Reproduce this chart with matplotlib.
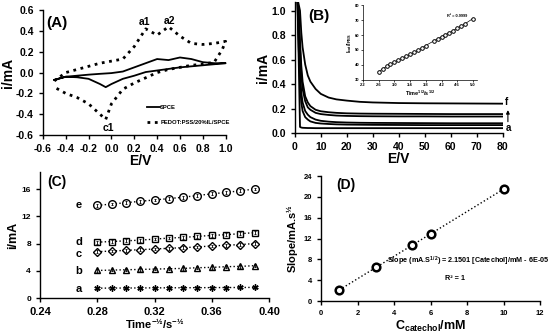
"""
Four-panel electrochemistry figure: CV, chronoamperometry, Cottrell plots, slope calibration.
"""

import numpy as np
import matplotlib
matplotlib.use('Agg')
import matplotlib.pyplot as plt

plt.rcParams['font.family'] = ['Liberation Sans', 'DejaVu Sans']
plt.rcParams['font.weight'] = 'bold'
plt.rcParams['axes.labelweight'] = 'bold'
plt.rcParams['mathtext.fontset'] = 'custom'
plt.rcParams['mathtext.rm'] = 'Liberation Sans:bold'
plt.rcParams['mathtext.it'] = 'Liberation Sans:bold'
plt.rcParams['mathtext.bf'] = 'Liberation Sans:bold'
plt.rcParams['axes.linewidth'] = 1.0

# ── (A) cyclic voltammograms ──────────────────────────────────────────────────
E_spce = [-0.5, -0.4, -0.3, -0.2, -0.1, 0.0, 0.1, 0.2, 0.3, 0.4, 0.5, 0.6, 0.7, 0.8, 0.9, 1.0,
          0.9, 0.8, 0.7, 0.6, 0.5, 0.4, 0.3, 0.2, 0.1, 0.0, -0.05, -0.1, -0.2, -0.3, -0.4, -0.5]
i_spce = [-0.07, -0.04, -0.03, -0.02, -0.012, -0.005, 0.01, 0.05, 0.09, 0.13, 0.12, 0.145, 0.13, 0.10, 0.09, 0.09,
          0.08, 0.07, 0.06, 0.05, 0.035, 0.02, 0.005, -0.03, -0.06, -0.11, -0.14, -0.11, -0.06, -0.045, -0.04, -0.07]
E_pedot = [-0.5, -0.4, -0.3, -0.2, -0.1, 0.0, 0.1, 0.2, 0.3, 0.4, 0.5, 0.6, 0.7, 0.8, 0.9, 1.0,
           0.97, 0.9, 0.8, 0.7, 0.6, 0.5, 0.4, 0.3, 0.2, 0.1, 0.0, -0.05, -0.1, -0.2, -0.3, -0.4, -0.5]
i_pedot = [-0.08, 0.0, 0.03, 0.06, 0.09, 0.11, 0.13, 0.25, 0.42, 0.36, 0.44, 0.35, 0.28, 0.27, 0.28, 0.30,
           0.22, 0.10, 0.08, 0.07, 0.05, 0.03, 0.0, -0.05, -0.10, -0.16, -0.30, -0.45, -0.40, -0.30, -0.24, -0.20, -0.14]

# ── (B) chronoamperograms ─────────────────────────────────────────────────────
t_b = [1.0, 1.5, 2.0, 2.5, 3, 4, 5, 6, 8, 10, 13, 16, 20, 25, 30, 40, 50, 60, 70, 80]
i_a = [1.1, 0.6, 0.05, 0.045, 0.043, 0.042, 0.041, 0.041, 0.04, 0.04, 0.04, 0.04, 0.04, 0.04, 0.04, 0.04, 0.04, 0.04, 0.04, 0.04]
i_b = [1.1, 0.7, 0.4, 0.25, 0.18, 0.13, 0.11, 0.095, 0.083, 0.078, 0.074, 0.071, 0.069, 0.068, 0.067, 0.066, 0.065, 0.065, 0.065, 0.065]
i_c = [1.1, 0.8, 0.5, 0.33, 0.25, 0.18, 0.15, 0.13, 0.11, 0.10, 0.093, 0.089, 0.086, 0.084, 0.083, 0.082, 0.081, 0.08, 0.08, 0.08]
i_d = [1.1, 0.95, 0.7, 0.48, 0.36, 0.26, 0.21, 0.19, 0.165, 0.155, 0.148, 0.143, 0.14, 0.138, 0.137, 0.136, 0.136, 0.135, 0.135, 0.135]
i_e = [1.1, 1.0, 0.75, 0.55, 0.42, 0.30, 0.25, 0.22, 0.19, 0.178, 0.17, 0.165, 0.161, 0.159, 0.158, 0.157, 0.156, 0.155, 0.155, 0.155]
i_f = [1.1, 1.05, 1.0, 0.82, 0.70, 0.56, 0.47, 0.42, 0.36, 0.32, 0.29, 0.275, 0.265, 0.255, 0.25, 0.245, 0.243, 0.242, 0.241, 0.24]
curves_b = [i_a, i_b, i_c, i_d, i_e, i_f]

# inset: Icat/IPBS vs t^1/2
sqrt_t = [2.6, 2.7, 2.8, 2.9, 3.0, 3.1, 3.2, 3.3, 3.4, 3.5, 3.6, 3.7, 3.8,
          4.0, 4.1, 4.2, 4.3, 4.4, 4.5, 4.6, 4.7, 4.8, 5.0]
ratio = [35.5, 37.4, 39.0, 40.6, 42.0, 43.3, 44.6, 45.8, 47.0, 48.4, 49.8, 51.3, 53.0,
         56.0, 57.4, 58.8, 60.2, 61.6, 63.0, 64.5, 66.0, 67.5, 71.0]

# ── (C) Cottrell plots ────────────────────────────────────────────────────────
t_inv = [0.28, 0.29, 0.30, 0.31, 0.32, 0.33, 0.34, 0.35, 0.36, 0.37, 0.38, 0.39]
c_a = [1.45, 1.46, 1.47, 1.48, 1.49, 1.5, 1.51, 1.52, 1.53, 1.54, 1.55, 1.56]
c_b = [4.05, 4.1, 4.15, 4.2, 4.25, 4.3, 4.35, 4.45, 4.5, 4.6, 4.65, 4.75]
c_c = [6.8, 6.9, 7.0, 7.1, 7.2, 7.3, 7.4, 7.5, 7.65, 7.75, 7.85, 8.0]
c_d = [8.2, 8.3, 8.4, 8.5, 8.65, 8.8, 8.9, 9.05, 9.2, 9.3, 9.45, 9.6]
c_e = [13.6, 13.8, 14.0, 14.2, 14.4, 14.6, 14.8, 15.05, 15.3, 15.5, 15.75, 16.0]
series_c = [c_a, c_b, c_c, c_d, c_e]
labels_c = ['a', 'b', 'c', 'd', 'e']
label_y_c = [1.3, 3.9, 6.5, 8.2, 13.6]
markers_c = [(6, 2, 0), '^', 'D', 's', 'o']
msizes_c = [4.5, 5, 4, 5, 5.5]

# ── (D) slope vs concentration ────────────────────────────────────────────────
conc = [1, 3, 5, 6, 10]
slope = [2.15, 6.45, 10.75, 12.9, 21.5]


def style_axes(ax, fs=7):
    for s in ['top', 'right']:
        ax.spines[s].set_visible(False)
    ax.tick_params(direction='out', length=3, width=1, labelsize=fs)
    for lab in ax.get_xticklabels() + ax.get_yticklabels():
        lab.set_fontweight('bold')


fig = plt.figure(figsize=(5.5, 3.36), dpi=100)

# ── Panel A ──
ax = fig.add_axes([0.078, 0.598, 0.353, 0.372])
ax.plot(E_spce, i_spce, 'k-', lw=1.3, label='SPCE')
ax.plot(E_pedot, i_pedot, 'k:', lw=2.0, label='PEDOT:PSS/20%IL/SPCE')
ax.set_xlim(-0.6, 1.1)
ax.set_ylim(-0.6, 0.6)
ax.set_xticks(np.arange(-0.6, 1.01, 0.2))
ax.set_yticks(np.arange(-0.6, 0.61, 0.2))
ax.set_xticklabels([f'{v:.1f}' for v in np.arange(-0.6, 1.01, 0.2)])
ax.set_yticklabels([f'{v:.1f}' for v in np.arange(-0.6, 0.61, 0.2)])
ax.spines['bottom'].set_bounds(-0.6, 1.0)
style_axes(ax, 7.5)
ax.set_xlabel('E/V', fontsize=10, labelpad=0)
ax.set_ylabel('i/mA', fontsize=10, labelpad=1)
ax.text(-0.57, 0.44, '(A)', fontsize=11, fontweight='bold')
ax.text(0.24, 0.46, 'a1', fontsize=7.5)
ax.text(0.46, 0.47, 'a2', fontsize=7.5)
ax.text(-0.08, -0.56, 'c1', fontsize=7.5)
ax.legend(loc='lower left', bbox_to_anchor=(0.52, 0.06), frameon=False,
          prop={'size': 4.2, 'weight': 'bold'}, handlelength=2.2, labelspacing=1.6,
          handletextpad=0.1, borderpad=0)

# ── Panel B ──
ax = fig.add_axes([0.536, 0.604, 0.378, 0.39])
for y in curves_b:
    ax.plot(t_b, y, 'k-', lw=1.3)
ax.set_xlim(0, 80)
ax.set_ylim(0, 1.07)
ax.set_xticks(np.arange(0, 81, 10))
ax.set_yticks(np.arange(0, 1.01, 0.2))
ax.set_yticklabels([f'{v:.1f}' for v in np.arange(0, 1.01, 0.2)])
style_axes(ax, 7.5)
ax.set_xlabel('E/V', fontsize=10, labelpad=0)
ax.set_ylabel('i/mA', fontsize=10, labelpad=1)
ax.text(5, 0.92, '(B)', fontsize=11, fontweight='bold')
ax.text(81, 0.23, 'f', fontsize=7, clip_on=False)
ax.text(81, 0.02, 'a', fontsize=7, clip_on=False)
ax.annotate('', xy=(82, 0.21), xytext=(82, 0.07),
            arrowprops=dict(arrowstyle='-|>', color='k', lw=0.8, mutation_scale=5),
            annotation_clip=False)

# inset
axi = fig.add_axes([0.66, 0.762, 0.207, 0.223])
axi.plot(sqrt_t, ratio, 'k-', lw=0.5, marker='o', ms=2.6, mfc='white', mec='k', mew=0.7)
axi.set_xlim(2.2, 5.1)
axi.set_ylim(30, 80)
axi.set_xticks(np.arange(2.2, 5.01, 0.4))
axi.set_xticklabels([f'{v:.1f}' for v in np.arange(2.2, 5.01, 0.4)])
axi.set_yticks(np.arange(30, 81, 10))
for s in ['top', 'right']:
    axi.spines[s].set_visible(False)
axi.spines['left'].set_linewidth(0.5)
axi.spines['bottom'].set_linewidth(0.5)
axi.tick_params(direction='out', length=1.5, width=0.5, labelsize=3, pad=1)
axi.set_xlabel(r'Time$^{1/2}$/s$^{1/2}$', fontsize=4, labelpad=1)
axi.set_ylabel(r'I$_{cat}$/I$_{PBS}$', fontsize=4, labelpad=1)
axi.text(4.35, 72, 'R² = 0.9999', fontsize=2.8)

# ── Panel C ──
ax = fig.add_axes([0.073, 0.113, 0.416, 0.375])
for y, lab, ly, mk, ms in zip(series_c, labels_c, label_y_c, markers_c, msizes_c):
    ax.plot(t_inv, y, 'k:', lw=1.0, marker=mk, ms=ms, mfc='white', mec='k', mew=1.0)
    ax.errorbar(t_inv, y, yerr=0.2, fmt='none', ecolor='k', elinewidth=0.6,
                capsize=1, capthick=0.6, zorder=4)
    ax.text(0.2645, ly, lab, fontsize=8, va='center')
ax.set_xlim(0.24, 0.40)
ax.set_ylim(0, 18.5)
ax.set_xticks([0.24, 0.28, 0.32, 0.36, 0.40])
ax.set_xticklabels(['0.24', '0.28', '0.32', '0.36', '0.40'])
ax.set_yticks([0, 4, 8, 12, 16])
style_axes(ax, 6)
ax.tick_params(axis='x', labelsize=8)
ax.set_xlabel('Time$^{-½}$/s$^{-½}$', fontsize=8, labelpad=0)
ax.set_ylabel('i/mA', fontsize=9, labelpad=2)
ax.text(0.245, 16.4, '(C)', fontsize=10, fontweight='bold')

# ── Panel D ──
ax = fig.add_axes([0.584, 0.104, 0.398, 0.372])
ax.plot([conc[0], conc[-1]], [slope[0], slope[-1]], 'k:', lw=1.0)
ax.plot(conc, slope, 'o', ms=5.5, mfc='white', mec='k', mew=1.8)
ax.set_xlim(0, 12)
ax.set_ylim(0, 24)
ax.set_xticks(np.arange(0, 13, 2))
ax.set_yticks(np.arange(0, 25, 4))
style_axes(ax, 5.5)
ax.set_xlabel(r'C$_{catechol}$/mM', fontsize=9, labelpad=1)
ax.set_ylabel('Slope/mA.s$^{½}$', fontsize=8, labelpad=2)
ax.text(0.8, 21.5, '(D)', fontsize=10, fontweight='bold')
ax.text(3.6, 7.2, 'Slope (mA.S$^{1/2}$) = 2.1501 [Catechol]/mM - 6E-05', fontsize=5.2,
        clip_on=False)
ax.text(6.8, 4.0, 'R² = 1', fontsize=5.2)

fig.savefig('out.png', dpi=100)
